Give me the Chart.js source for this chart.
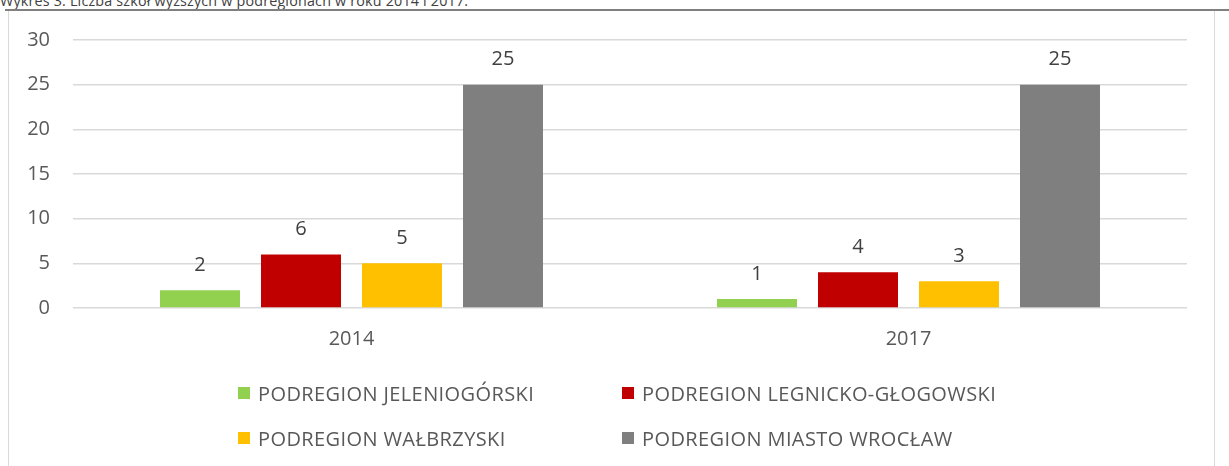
<!DOCTYPE html>
<html>
<head>
<meta charset="utf-8">
<script src="https://cdn.jsdelivr.net/npm/chart.js@4.4.1/dist/chart.umd.min.js"></script>
<style>
  html, body { margin:0; padding:0; background:#fff; width:1229px; height:466px; overflow:hidden; position:relative; font-family:"Open Sans", sans-serif; }
  #title { position:absolute; left:0; top:-6px; font-size:14.3px; line-height:14px; color:#404040; white-space:nowrap; letter-spacing:0.2px; }
  #rule { position:absolute; left:5px; top:9px; width:1224px; height:1.5px; background:#808080; }
  #frame { position:absolute; left:8px; top:10px; width:1205px; height:470px; border:1.5px solid #d9d9d9; box-sizing:content-box; }
  #wrap { position:absolute; left:10px; top:12px; width:1205px; height:454px; }
  .lg { position:absolute; display:flex; align-items:center; font-size:20px; color:#595959; letter-spacing:0.4px; white-space:nowrap; height:24px; }
  .lg i { display:inline-block; width:12px; height:12px; margin-right:8px; }
</style>
</head>
<body>
<div id="title">Wykres 3. Liczba szkół wyższych w podregionach w roku 2014 i 2017.</div>
<div id="frame"></div>
<div id="rule"></div>
<div id="wrap"><canvas id="c"></canvas></div>
<div id="legend"></div>
<script>
const categories = ['2014', '2017'];
const seriesNames = ['PODREGION JELENIOGÓRSKI', 'PODREGION LEGNICKO-GŁOGOWSKI', 'PODREGION WAŁBRZYSKI', 'PODREGION MIASTO WROCŁAW'];
const jeleniogorski = [2, 1];
const legnickoGlogowski = [6, 4];
const walbrzyski = [5, 3];
const miastoWroclaw = [25, 25];
const yMin = 0, yMax = 30, yStep = 5;

const seriesValues = [jeleniogorski, legnickoGlogowski, walbrzyski, miastoWroclaw];
const seriesColors = ['#92D050', '#C00000', '#FFC000', '#7F7F7F'];

const valueLabels = {
  id: 'valueLabels',
  afterDatasetsDraw(chart) {
    const ctx = chart.ctx;
    ctx.save();
    ctx.font = '20px "Open Sans"';
    ctx.fillStyle = '#404040';
    ctx.textAlign = 'center';
    ctx.textBaseline = 'middle';
    chart.data.datasets.forEach((ds, i) => {
      chart.getDatasetMeta(i).data.forEach((bar, j) => {
        ctx.fillText(String(ds.data[j]), bar.x, bar.y - 25);
      });
    });
    ctx.restore();
  }
};

const chart = new Chart(document.getElementById('c'), {
  type: 'bar',
  data: {
    labels: categories,
    datasets: seriesNames.map((name, i) => ({
      label: name,
      data: seriesValues[i],
      backgroundColor: seriesColors[i],
      borderWidth: 0,
      categoryPercentage: 0.7253,
      barPercentage: 0.792
    }))
  },
  options: {
    responsive: true,
    maintainAspectRatio: false,
    animation: false,
    layout: { padding: { left: 0, right: 28, top: 28, bottom: 108 } },
    plugins: { legend: { display: false }, tooltip: { enabled: false } },
    scales: {
      x: {
        grid: { display: false, drawTicks: false },
        border: { display: false },
        ticks: { color: '#595959', font: { family: 'Open Sans', size: 20 }, padding: 19 },
        afterFit(scale) { scale.height = 50; }
      },
      y: {
        min: yMin, max: yMax,
        grid: { color: '#d9d9d9', lineWidth: 1.5, drawTicks: true, tickLength: 20, tickColor: 'rgba(0,0,0,0)' },
        border: { display: false },
        ticks: { stepSize: yStep, color: '#595959', font: { family: 'Open Sans', size: 20 }, padding: 3 },
        afterFit(scale) { scale.width = 63; }
      }
    }
  },
  plugins: [valueLabels]
});

// HTML legend built from the chart's datasets (2 columns x 2 rows)
const legend = document.getElementById('legend');
const colX = [238, 622];
const rowY = [393, 438];
chart.data.datasets.forEach((ds, i) => {
  const d = document.createElement('div');
  d.className = 'lg';
  d.style.left = colX[i % 2] + 'px';
  d.style.top = (rowY[Math.floor(i / 2)] - 12) + 'px';
  const sw = document.createElement('i');
  sw.style.background = ds.backgroundColor;
  d.appendChild(sw);
  d.appendChild(document.createTextNode(ds.label));
  legend.appendChild(d);
});
</script>
</body>
</html>
